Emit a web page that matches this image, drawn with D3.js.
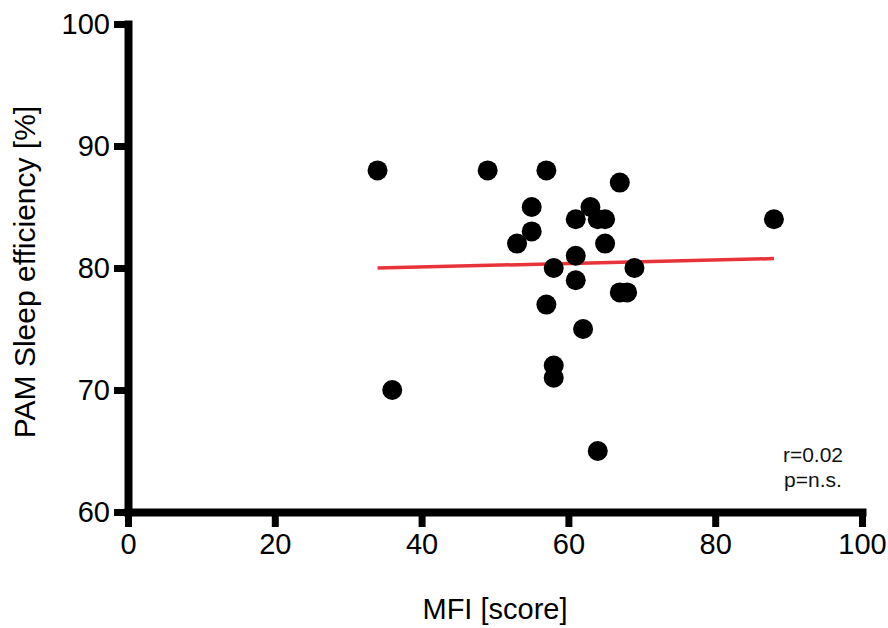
<!DOCTYPE html>
<html>
<head>
<meta charset="utf-8">
<script src="https://cdn.jsdelivr.net/npm/d3@7"></script>
<style>
  body { margin: 0; background: #fff; }
  svg { display: block; font-family: "Liberation Sans", Arial, Helvetica, sans-serif; }
</style>
</head>
<body>
<svg id="chart" width="888" height="628"></svg>
<script>
// Data
const mfiScore = [34, 36, 49, 57, 55, 55, 53, 61, 63, 64, 65, 67, 65, 61, 58, 69, 61, 67, 68, 57, 62, 58, 58, 64, 88];
const sleepEfficiency = [88, 70, 88, 88, 85, 83, 82, 84, 85, 84, 84, 87, 82, 81, 80, 80, 79, 78, 78, 77, 75, 72, 71, 65, 84];
const fitX = [34, 88];
const fitY = [80.0, 80.77];
const xTicks = [0, 20, 40, 60, 80, 100];
const yTicks = [60, 70, 80, 90, 100];
const annotation = ["r=0.02", "p=n.s."];

const svg = d3.select("#chart");
const x = d3.scaleLinear().domain([0, 100]).range([128, 862]);
const y = d3.scaleLinear().domain([60, 100]).range([512, 24]);

// X axis
const gx = svg.append("g").attr("transform", `translate(0,${y(60)})`)
  .call(d3.axisBottom(x).tickValues(xTicks).tickSize(15).tickSizeOuter(0).tickPadding(6));
gx.select(".domain").attr("stroke", "#000").attr("stroke-width", 8).attr("stroke-linecap", "square");
gx.selectAll(".tick line").attr("stroke", "#000").attr("stroke-width", 7);
gx.selectAll(".tick text").attr("font-size", 29).attr("fill", "#000")
  .attr("font-family", "Liberation Sans, Arial, sans-serif");

// Y axis
const gy = svg.append("g").attr("transform", `translate(${x(0)},0)`)
  .call(d3.axisLeft(y).tickValues(yTicks).tickSize(14).tickSizeOuter(0).tickPadding(4));
gy.select(".domain").attr("stroke", "#000").attr("stroke-width", 8).attr("stroke-linecap", "square");
gy.selectAll(".tick line").attr("stroke", "#000").attr("stroke-width", 7);
gy.selectAll(".tick text").attr("font-size", 29).attr("fill", "#000")
  .attr("font-family", "Liberation Sans, Arial, sans-serif");

// Regression line
svg.append("line")
  .attr("x1", x(fitX[0])).attr("y1", y(fitY[0]))
  .attr("x2", x(fitX[1])).attr("y2", y(fitY[1]))
  .attr("stroke", "#e8333a").attr("stroke-width", 3.5);

// Points
const pts = mfiScore.map((d, i) => ({ x: d, y: sleepEfficiency[i] }));
svg.append("g").selectAll("circle").data(pts).join("circle")
  .attr("cx", d => x(d.x)).attr("cy", d => y(d.y)).attr("r", 10).attr("fill", "#000");

// Annotation
svg.append("text").attr("x", 813).attr("y", 462).attr("text-anchor", "middle")
  .attr("font-size", 21).attr("fill", "#111").text(annotation[0]);
svg.append("text").attr("x", 813).attr("y", 487).attr("text-anchor", "middle")
  .attr("font-size", 21).attr("fill", "#111").text(annotation[1]);

// Axis titles
svg.append("text").attr("x", 495).attr("y", 619).attr("text-anchor", "middle")
  .attr("font-size", 29).attr("fill", "#000").text("MFI [score]");
svg.append("text").attr("transform", "translate(35,272) rotate(-90)").attr("text-anchor", "middle")
  .attr("font-size", 30).attr("fill", "#000").text("PAM Sleep efficiency [%]");
</script>
</body>
</html>
